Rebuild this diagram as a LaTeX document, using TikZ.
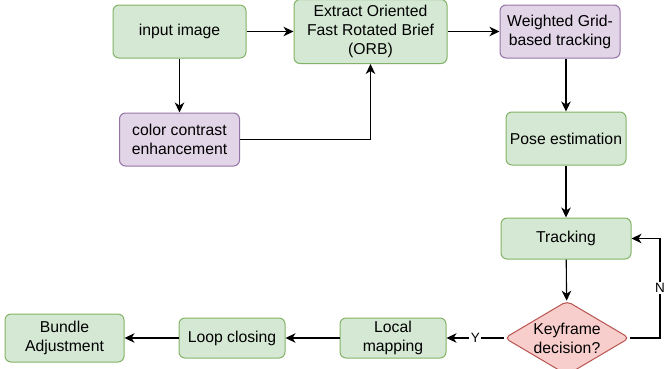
\documentclass[tikz,border=0pt]{standalone}
\usepackage{fontspec}
\setmainfont{Liberation Sans}
\usepackage{xcolor}
\definecolor{gFill}{HTML}{D5E8D4}
\definecolor{gLine}{HTML}{82B366}
\definecolor{pFill}{HTML}{E1D5E7}
\definecolor{pLine}{HTML}{9673A6}
\definecolor{rFill}{HTML}{F8CECC}
\definecolor{rLine}{HTML}{B85450}
\usetikzlibrary{arrows.meta,positioning,shapes.geometric}

\begin{document}
\begin{tikzpicture}[x=1pt,y=-1pt,
  font=\fontsize{15.75}{19}\selectfont,
  box/.style={draw=gLine,fill=gFill,rounded corners=6pt,line width=1pt,
    align=center,inner sep=2pt},
  enh/.style={box,draw=pLine,fill=pFill},
  decide/.style={diamond,aspect=1.7,draw=rLine,fill=rFill,line width=1pt,
    rounded corners=5pt,align=center,inner sep=0pt,
    minimum width=125pt,minimum height=74pt},
  arr/.style={-{Stealth[length=10pt,width=9.5pt,inset=3pt]},line width=1.1pt},
  lbl/.style={fill=white,font=\fontsize{13.5}{16}\selectfont,inner sep=1.5pt}]
\useasboundingbox (0,0) rectangle (664,368);
% top row
\node[box,minimum width=133pt,minimum height=53pt] (inimg) at (179.5,31.5) {input image};
\node[box,minimum width=153pt,minimum height=64pt,right=47pt of inimg] (orb)
  {Extract Oriented\\Fast Rotated Brief\\(ORB)};
\node[enh,minimum width=120pt,minimum height=53pt,right=52pt of orb] (wgt)
  {Weighted Grid-\\based tracking};
\node[enh,minimum width=120pt,minimum height=53pt,below=54pt of inimg] (cce)
  {color contrast\\enhancement};
% right column
\node[box,minimum width=120pt,minimum height=53pt] (pose) at (566,138.5) {Pose estimation};
\node[box,minimum width=130pt,minimum height=41pt,below=52pt of pose] (track) {Tracking};
\node[decide] (keyf) at (567,338) {Keyframe\\decision?};
% bottom row
\node[box,minimum width=106pt,minimum height=40pt] (locmap) at (393,338) {Local\\mapping};
\node[box,minimum width=106pt,minimum height=40pt,left=54pt of locmap] (loopc) {Loop closing};
\node[box,minimum width=119pt,minimum height=48pt,left=54pt of loopc] (bundle)
  {Bundle\\Adjustment};
\coordinate (nturn) at (660,338);
\draw[arr] (inimg) -- (orb);
\draw[arr] (orb) -- (wgt);
\draw[arr] (inimg) -- (cce);
\draw[arr] (cce) -| (orb);
\draw[arr] (wgt.south -| pose.north) -- (pose);
\draw[arr] (pose) -- (track);
\draw[arr] (track) -- (keyf);
\draw[arr] (keyf) -- node[lbl] {Y} (locmap);
\draw[arr] (keyf.east) -- (nturn) |- node[lbl,pos=0.25] {N} (track.east);
\draw[arr] (locmap) -- (loopc);
\draw[arr] (loopc) -- (bundle);
\end{tikzpicture}
\end{document}
